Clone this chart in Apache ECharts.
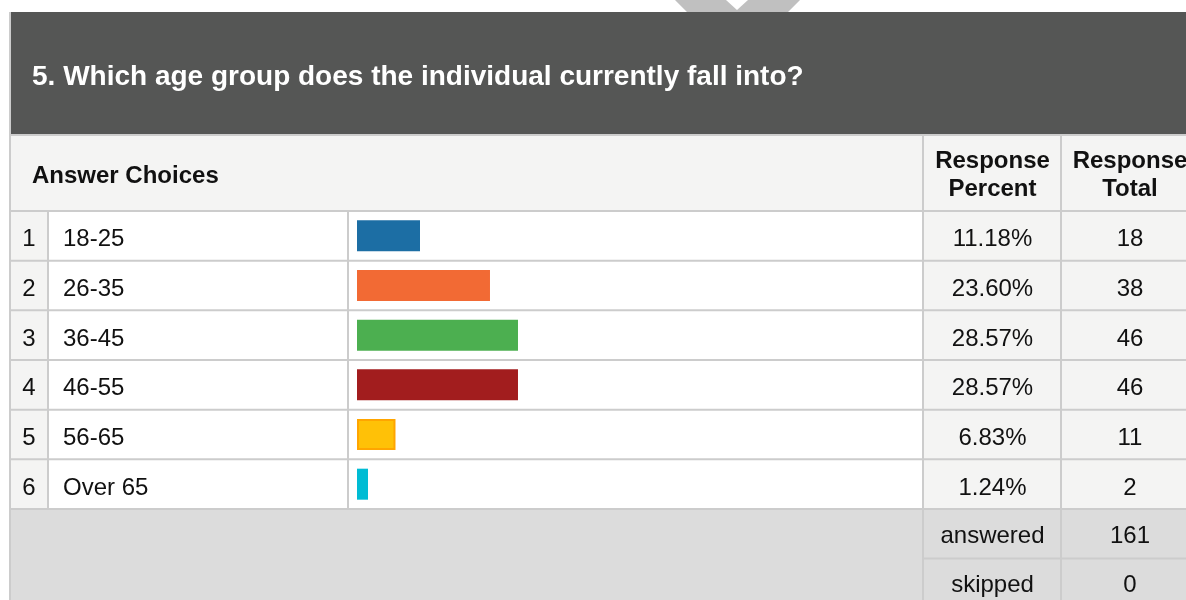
<!DOCTYPE html>
<html><head><meta charset="utf-8">
<script src="https://cdn.jsdelivr.net/npm/echarts@6/dist/echarts.min.js"></script>
<style>html,body{margin:0;padding:0;background:#fff}#c{width:1186px;height:600px}</style>
</head><body><div id="c"></div>
<script>
// ---- data ----
const questionTitle = '5. Which age group does the individual currently fall into?';
const headerLabels = ['Answer Choices', 'Response\nPercent', 'Response\nTotal'];
const rowNumbers = ['1', '2', '3', '4', '5', '6'];
const categories = ['18-25', '26-35', '36-45', '46-55', '56-65', 'Over 65'];
const responsePercent = [11.18, 23.60, 28.57, 28.57, 6.83, 1.24];
const responseTotal = [18, 38, 46, 46, 11, 2];
const summaryLabels = ['answered', 'skipped'];
const summaryValues = [161, 0];

// ---- styles / layout ----
const barColors = ['#1c6ea4', '#f26a34', '#4caf50', '#a21d1e', '#ffc107', '#00bcd4'];
const FONT = '"Liberation Sans", Arial, Helvetica, sans-serif';
const FS = 24;
const TXT = '#111111';
const LINE = '#cccccc';
const CELL = '#f4f4f3';
const W = 1186;
const ROW_TOP = 211, ROW_H = 49.67, N = categories.length;
const ROW_BOT = ROW_TOP + ROW_H * N;
const X_NUM = 48, X_LABEL = 348, X_PCT = 923, X_TOT = 1061;
const GRID_L = 357, GRID_W = 563.5;
const NUM_CX = 29, LABEL_X = 63, PCT_CX = 992.5, TOT_CX = 1130;
const LABEL_SHIFT = 4;
const FOOT_TOP = ROW_BOT + 1, FOOT_MID = 558.5;

const g = [];
// chevron above header
g.push({type: 'polygon', shape: {points: [[675, 0], [726, 0], [737, 10], [748, 0], [800, 0], [788, 12], [687, 12]]}, style: {fill: '#c0c0c0'}});
// dark header
g.push({type: 'rect', shape: {x: 11, y: 12, width: W - 11, height: 123}, style: {fill: '#555655'}});
g.push({type: 'text', x: 32, y: 77, style: {text: questionTitle, fill: '#ffffff', font: 'bold 28px ' + FONT, verticalAlign: 'middle'}});
// column header row
g.push({type: 'rect', shape: {x: 11, y: 136, width: W - 11, height: ROW_TOP - 136}, style: {fill: CELL}});
// shaded columns in data rows
g.push({type: 'rect', shape: {x: 11, y: ROW_TOP, width: X_NUM - 11, height: ROW_BOT - ROW_TOP}, style: {fill: CELL}});
g.push({type: 'rect', shape: {x: X_PCT, y: ROW_TOP, width: W - X_PCT, height: ROW_BOT - ROW_TOP}, style: {fill: CELL}});
// footer
g.push({type: 'rect', shape: {x: 11, y: FOOT_TOP, width: W - 11, height: 600 - FOOT_TOP}, style: {fill: '#dcdcdc'}});
// lines
function hline(y, x1, x2) { g.push({type: 'line', shape: {x1: x1, y1: y, x2: x2, y2: y}, style: {stroke: LINE, lineWidth: 2}}); }
function vline(x, y1, y2) { g.push({type: 'line', shape: {x1: x, y1: y1, x2: x, y2: y2}, style: {stroke: LINE, lineWidth: 2}}); }
vline(10, 12, 600);
hline(135, 10, W);
for (let i = 0; i <= N; i++) hline(ROW_TOP + i * ROW_H, 10, W);
vline(X_NUM, ROW_TOP, ROW_BOT);
vline(X_LABEL, ROW_TOP, ROW_BOT);
vline(X_PCT, 136, 600);
vline(X_TOT, 136, 600);
hline(FOOT_MID, X_PCT, W);
// header texts
g.push({type: 'text', x: 32, y: 176, style: {text: headerLabels[0], fill: TXT, font: 'bold ' + FS + 'px ' + FONT, verticalAlign: 'middle'}});
g.push({type: 'text', x: PCT_CX, y: 175.5, style: {text: headerLabels[1], fill: TXT, font: 'bold ' + FS + 'px ' + FONT, align: 'center', verticalAlign: 'middle', lineHeight: 28}});
g.push({type: 'text', x: TOT_CX, y: 175.5, style: {text: headerLabels[2], fill: TXT, font: 'bold ' + FS + 'px ' + FONT, align: 'center', verticalAlign: 'middle', lineHeight: 28}});
// summary texts
summaryLabels.forEach(function (lab, i) {
  const cy = i === 0 ? 536 : 585;
  g.push({type: 'text', x: PCT_CX, y: cy, style: {text: lab, fill: TXT, font: FS + 'px ' + FONT, align: 'center', verticalAlign: 'middle'}});
  g.push({type: 'text', x: TOT_CX, y: cy, style: {text: String(summaryValues[i]), fill: TXT, font: FS + 'px ' + FONT, align: 'center', verticalAlign: 'middle'}});
});

function labelAxis(data, position, offset, align) {
  return {
    type: 'category', data: data, inverse: true, gridIndex: 1, position: position, offset: offset, z: 10,
    axisLine: {show: false}, axisTick: {show: false}, splitLine: {show: false},
    axisLabel: {show: true, interval: 0, margin: 0, align: align, color: TXT, fontSize: FS, fontFamily: FONT}
  };
}

const chart = echarts.init(document.getElementById('c'), null, {renderer: 'canvas'});
chart.setOption({
  animation: false,
  backgroundColor: '#ffffff',
  graphic: {elements: g},
  grid: [
    {left: GRID_L, top: ROW_TOP, width: GRID_W, height: ROW_H * N, containLabel: false, outerBoundsMode: 'none'},
    {left: GRID_L, top: ROW_TOP + LABEL_SHIFT, width: GRID_W, height: ROW_H * N, containLabel: false, outerBoundsMode: 'none'}
  ],
  xAxis: [
    {type: 'value', min: 0, max: 100, show: false, gridIndex: 0},
    {type: 'value', min: 0, max: 100, show: false, gridIndex: 1}
  ],
  yAxis: [
    {type: 'category', data: categories, inverse: true, show: false, gridIndex: 0},
    labelAxis(rowNumbers, 'left', GRID_L - NUM_CX, 'center'),
    labelAxis(categories, 'left', GRID_L - LABEL_X, 'left'),
    labelAxis(responsePercent.map(function (v) { return v.toFixed(2) + '%'; }), 'right', PCT_CX - (GRID_L + GRID_W), 'center'),
    labelAxis(responseTotal.map(String), 'right', TOT_CX - (GRID_L + GRID_W), 'center')
  ],
  series: [{
    type: 'bar', xAxisIndex: 0, yAxisIndex: 0, barWidth: 31, barMinHeight: 11, silent: true,
    data: responsePercent.map(function (v, i) {
      const st = {color: barColors[i]};
      if (i === 4) { st.borderColor = '#ffa500'; st.borderWidth = 2; }
      return {value: v, itemStyle: st};
    })
  }]
});
</script></body></html>
